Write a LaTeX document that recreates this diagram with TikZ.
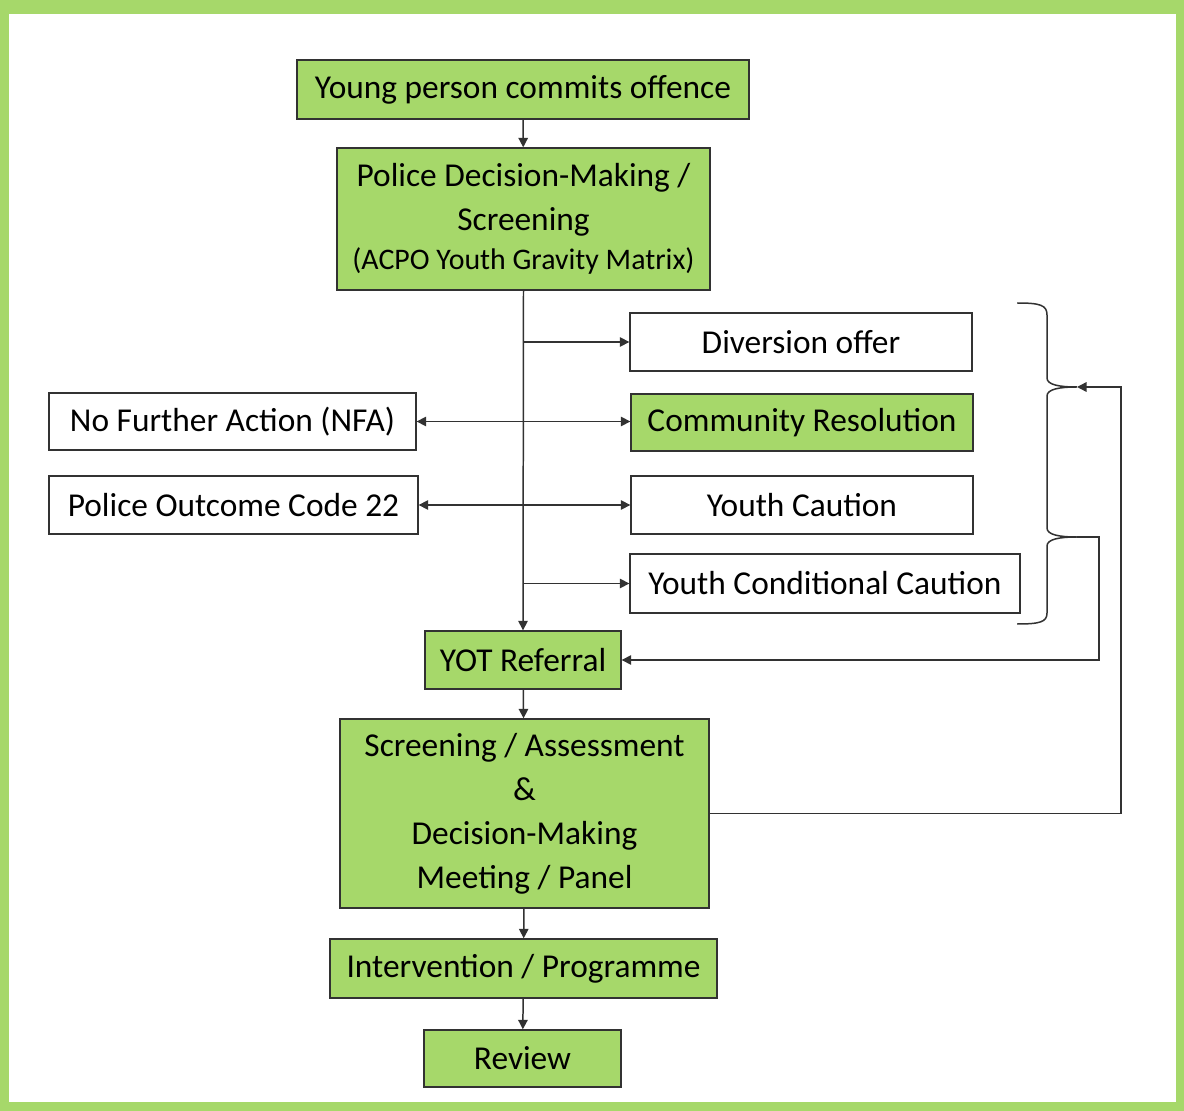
\documentclass[tikz,border=0pt]{standalone}
\usepackage{fontspec}
\setmainfont{Carlito}
\usetikzlibrary{arrows.meta,positioning,calc}
\definecolor{yotgreen}{RGB}{166,216,106}
\definecolor{edgegray}{RGB}{50,50,50}

\begin{document}
\begin{tikzpicture}[x=0.02cm, y=-0.02cm,
  every node/.style={font=\fontsize{19}{25}\selectfont},
  n/.style={draw=edgegray, line width=0.8pt, inner sep=0pt, align=center},
  gn/.style={n, fill=yotgreen},
  link/.style={draw=edgegray, line width=0.85pt},
  arr/.style={link, -{Triangle[length=1.9mm,width=1.9mm]}},
  dbl/.style={link, {Triangle[length=1.9mm,width=1.9mm]}-{Triangle[length=1.9mm,width=1.9mm]}}]
% frame
\fill[yotgreen] (0,0) rectangle (1184,1111);
\fill[white] (9,14) rectangle (1176,1102);
\useasboundingbox (0,0) rectangle (1184,1111);
% main column
\node[gn, minimum width=9.04cm, minimum height=1.18cm] (offence) at (523,89.5) {Young person commits offence};
\node[gn, minimum width=7.46cm, minimum height=2.84cm] (police) at (523.5,219)
  {Police Decision-Making /\\Screening\\[-3pt]{\fontsize{17}{20}\selectfont (ACPO Youth Gravity Matrix)}};
\node[gn, minimum width=3.92cm, minimum height=1.16cm] (yot) at (523,660) {YOT Referral};
\node[gn, minimum width=7.38cm, minimum height=3.78cm] (screen) at (524.5,813.5)
  {Screening / Assessment\\\&\\Decision-Making\\Meeting / Panel};
\node[gn, minimum width=7.74cm, minimum height=1.18cm] (interv) at (523.5,968.5) {Intervention / Programme};
\node[gn, minimum width=3.94cm, minimum height=1.14cm] (review) at (522.5,1058.5) {Review};
% outcomes
\node[n, minimum width=6.84cm, minimum height=1.16cm] (diversion) at (801,342) {Diversion offer};
\node[gn, minimum width=6.84cm, minimum height=1.14cm] (community) at (802,422.5) {Community Resolution};
\node[n, minimum width=6.84cm, minimum height=1.16cm] (caution) at (802,505) {Youth Caution};
\node[n, minimum width=7.8cm, minimum height=1.18cm] (condcaution) at (825,583.5) {Youth Conditional Caution};
\node[n, minimum width=7.34cm, minimum height=1.14cm] (nfa) at (232.5,421.5) {No Further Action (NFA)};
\node[n, minimum width=7.38cm, minimum height=1.16cm] (code22) at (233.5,505) {Police Outcome Code 22};
% brace tips
\coordinate (tipa) at (1077,387);
\coordinate (tipb) at (1077,537);
\draw[link] (1017,303) .. controls (1040,303) and (1047,305) .. (1047,315) -- (1047,378)
  .. controls (1047,385) and (1060,387) .. (tipa) .. controls (1060,387) and (1047,389) .. (1047,396)
  -- (1047,528) .. controls (1047,535) and (1060,537) .. (tipb) .. controls (1060,537) and (1047,539) .. (1047,546)
  -- (1047,613) .. controls (1047,622) and (1040,624) .. (1017,624);
% connectors
\draw[arr] (offence) -- (police);
\draw[arr] (police.south) -- (yot.north);
\draw[arr] (police.south |- diversion.west) -- (diversion.west);
\draw[dbl] (nfa.east) -- (nfa.east -| community.west);
\draw[dbl] (code22.east) -- (code22.east -| caution.west);
\draw[arr] (police.south |- condcaution.west) -- (condcaution.west);
\draw[arr] (yot) -- (screen);
\draw[arr] (screen) -- (interv);
\draw[arr] (interv) -- (review);
\draw[arr] (screen.east) -| (1121,387) -- (tipa);
\draw[arr] (tipb) -- (1099,537) |- (yot.east);
\end{tikzpicture}
\end{document}
